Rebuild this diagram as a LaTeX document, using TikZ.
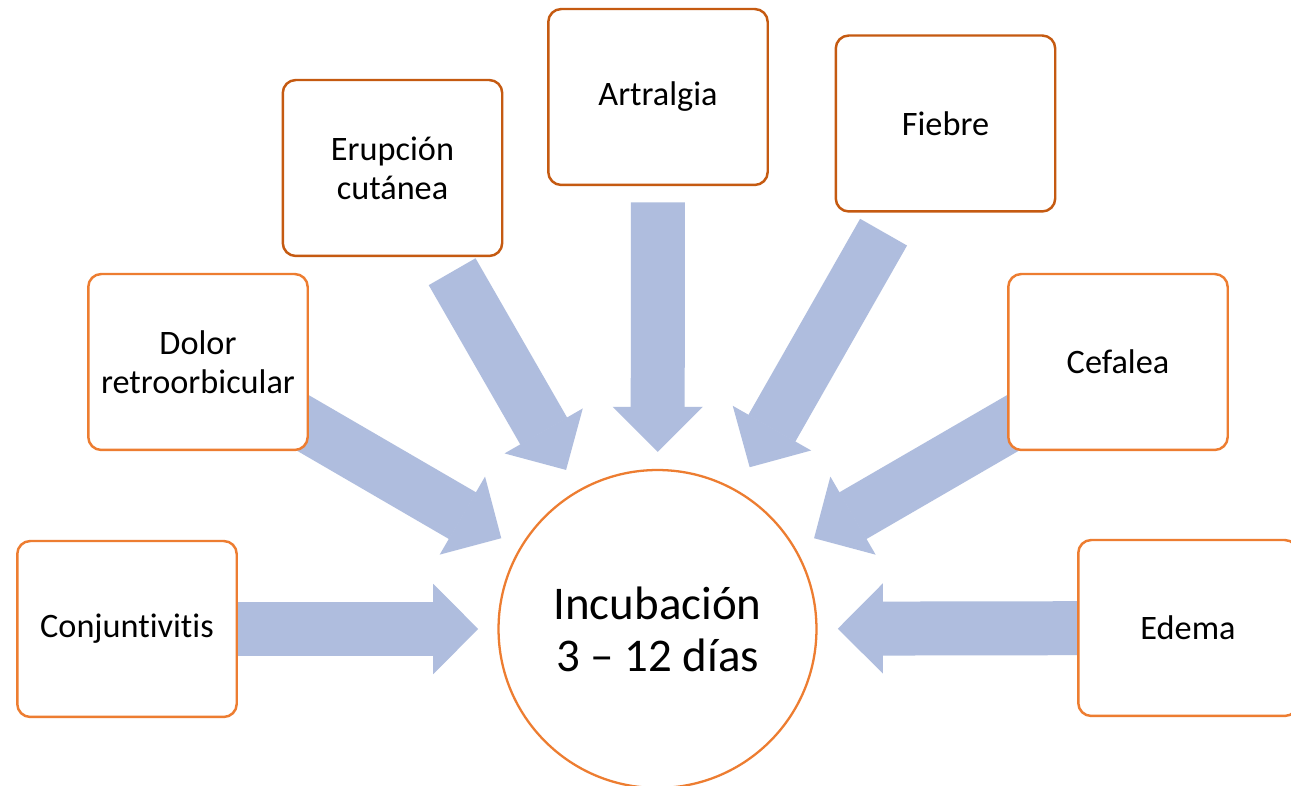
\documentclass[tikz,border=0pt]{standalone}
\usepackage{fontspec}
\setmainfont{Carlito}[Ligatures=NoCommon]
\usepackage{tikz}
\usetikzlibrary{arrows.meta, calc, backgrounds}
\definecolor{boxorange}{RGB}{237,125,49}
\definecolor{boxbrown}{RGB}{197,90,17}
\definecolor{arrowblue}{RGB}{175,189,222}
\tikzstyle{symptom}=[draw=boxorange, line width=1.4pt, fill=white, rounded corners=0.26cm, minimum width=4.39cm, minimum height=3.52cm, align=center, font=\fontsize{19.5}{22.2}\selectfont]
\tikzstyle{symptomdark}=[symptom, draw=boxbrown]
\tikzstyle{bigarrow}=[draw=arrowblue, line width=1.08cm, -{Triangle[length=0.9cm, width=1.8cm, line width=0.8pt]}]

\begin{document}
\begin{tikzpicture}[x=0.02cm, y=0.02cm]
        \useasboundingbox (0,0) rectangle (1291,786);
        \node[draw=boxorange, line width=1.3pt, circle, fill=white, minimum size=6.36cm, align=center, font=\fontsize{26.7}{29.6}\selectfont] (inc) at (657.5,157) {Incubación\\3 – 12 días};
        \node[symptom] (conj) at (127,157) {Conjuntivitis};
        \node[symptom] (dolor) at (198,424) {Dolor\\retroorbicular};
        \node[symptomdark] (erup) at (392.5,618) {Erupción\\cutánea};
        \node[symptomdark] (artr) at (658,689) {Artralgia};
        \node[symptomdark] (fieb) at (945.5,662.5) {Fiebre};
        \node[symptom] (cefa) at (1118,424) {Cefalea};
        \node[symptom] (edem) at (1188,158) {Edema};
        \begin{scope}[on background layer]
            \fill[white] (0,0) rectangle (1291,786);
            % arrows run from each box towards the circle
            \foreach \n/\a/\b in {conj/0.81/0.338, dolor/0.81/0.34, erup/0.775/0.345, artr/0.802/0.333, fieb/0.785/0.32, cefa/0.81/0.34, edem/0.81/0.34}
                \draw[bigarrow] ($(inc)!\a!(\n)$) -- ($(inc)!\b!(\n)$);
        \end{scope}
    \end{tikzpicture}
\end{document}
